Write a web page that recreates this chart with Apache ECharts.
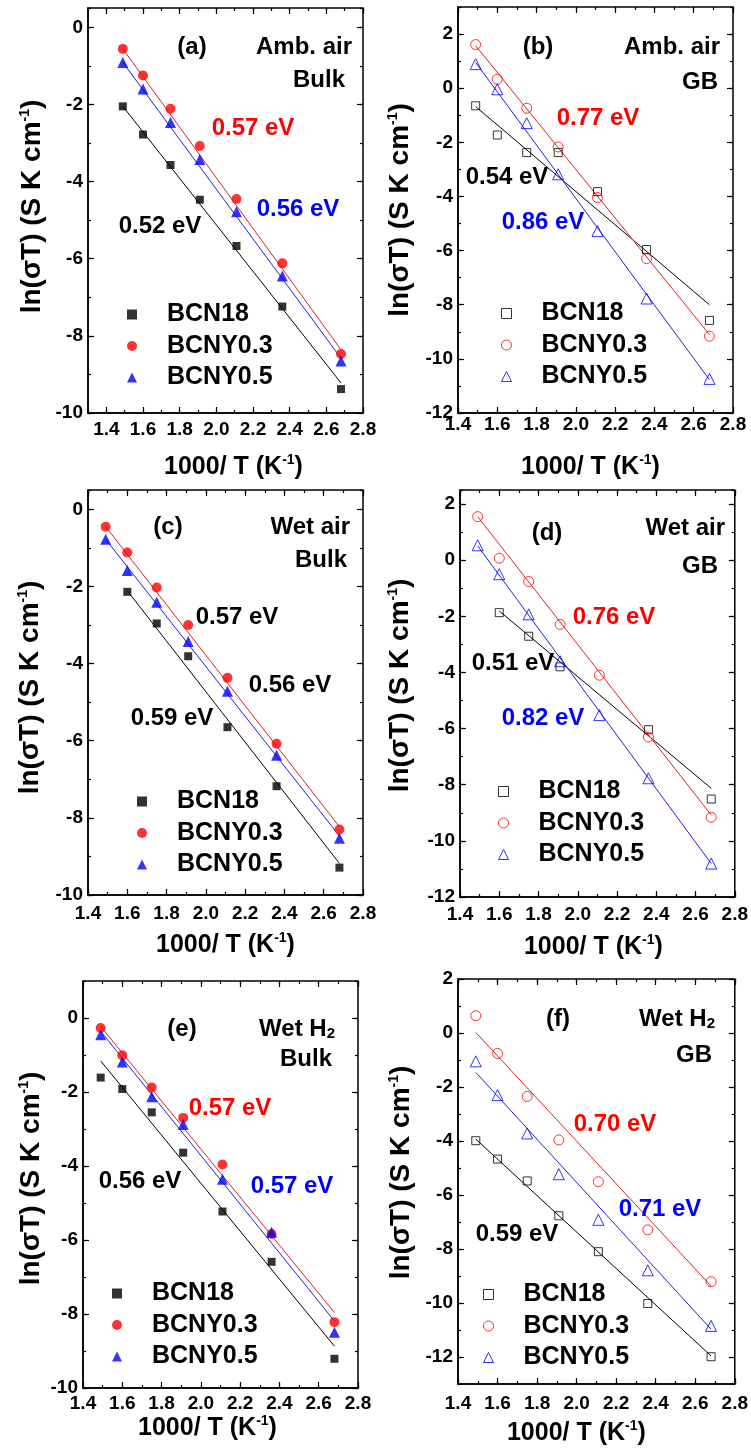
<!DOCTYPE html>
<html><head><meta charset="utf-8">
<script src="https://cdn.jsdelivr.net/npm/echarts@6/dist/echarts.min.js"></script>
<style>html,body{margin:0;padding:0;background:#fff}#c{width:751px;height:1456px}</style>
</head><body><div id="c"></div>
<script>
// ---------- DATA ----------
const xTickLabels = [1.4, 1.6, 1.8, 2.0, 2.2, 2.4, 2.6, 2.8];
const yTicks10 = [-10, -8, -6, -4, -2, 0];
const yTicks12 = [-12, -10, -8, -6, -4, -2, 0, 2];
const invT = [1.49, 1.60, 1.75, 1.91, 2.11, 2.36, 2.68];   // 1000/T (K^-1)
const fitX7 = [1.49, 2.68];
const fitX6 = [1.60, 2.68];

// (a) ambient air, bulk
const a_BCN18   = [-2.05, -2.78, -3.57, -4.47, -5.67, -7.24, -9.38];
const a_BCNY03  = [-0.56, -1.25, -2.11, -3.08, -4.45, -6.12, -8.47];
const a_BCNY05  = [-0.91, -1.60, -2.47, -3.43, -4.78, -6.45, -8.65];
const a_fit_BCN18 = [-2.05, -9.22], a_fit_BCNY03 = [-0.56, -8.36], a_fit_BCNY05 = [-0.91, -8.58];
// (b) ambient air, GB
const b_BCN18   = [-0.65, -1.73, -2.38, -2.38, -3.82, -5.96, -8.58];
const b_BCNY03  = [1.61, 0.33, -0.74, -2.17, -4.04, -6.30, -9.16];
const b_BCNY05  = [0.89, -0.04, -1.29, -3.18, -5.28, -7.77, -10.74];
const b_fit_BCN18 = [-0.68, -8.00], b_fit_BCNY03 = [1.57, -9.10], b_fit_BCNY05 = [0.95, -10.77];
// (c) wet air, bulk
const c_BCN18   = [null, -2.14, -2.96, -3.81, -5.65, -7.18, -9.29];
const c_BCNY03  = [-0.45, -1.12, -2.03, -3.00, -4.37, -6.08, -8.30];
const c_BCNY05  = [-0.78, -1.59, -2.41, -3.43, -4.72, -6.38, -8.53];
const c_fit_BCN18 = [-2.11, -9.18], c_fit_BCNY03 = [-0.45, -8.23], c_fit_BCNY05 = [-0.78, -8.47];
// (d) wet air, GB
const d_BCN18   = [null, -1.87, -2.71, -3.80, null, -6.04, -8.51];
const d_BCNY03  = [1.55, 0.07, -0.76, -2.29, -4.10, -6.30, -9.16];
const d_BCNY05  = [0.53, -0.50, -1.93, -3.60, -5.52, -7.77, -10.81];
const d_fit_BCN18 = [-1.81, -8.13], d_fit_BCNY03 = [1.55, -9.08], d_fit_BCNY05 = [0.51, -10.81];
// (e) wet H2, bulk
const e_BCN18   = [-1.61, -1.92, -2.55, -3.64, -5.23, -6.59, -9.21];
const e_BCNY03  = [-0.27, -1.01, -1.88, -2.70, -3.96, -5.84, -8.22];
const e_BCNY05  = [-0.45, -1.19, -2.13, -2.88, -4.36, -5.79, -8.49];
const e_fit_BCN18 = [-1.16, -8.87], e_fit_BCNY03 = [-0.23, -7.96], e_fit_BCNY05 = [-0.36, -8.19];
// (f) wet H2, GB
const f_BCN18   = [-3.99, -4.67, -5.48, -6.77, -8.10, -10.02, -11.99];
const f_BCNY03  = [0.64, -0.76, -2.35, -3.96, -5.51, -7.29, -9.21];
const f_BCNY05  = [-1.05, -2.30, -3.72, -5.23, -6.92, -8.79, -10.85];
const f_fit_BCN18 = [-3.93, -11.96], f_fit_BCNY03 = [0.02, -9.37], f_fit_BCNY05 = [-1.46, -10.97];

// ---------- STYLE / LAYOUT ----------
const FONT = '"Liberation Sans", Arial, Helvetica, sans-serif';
const RED = '#ff0000', BLUE = '#0000ff', BLACK = '#000000';
const SER = {
  BCN18:  {color: BLACK, symbol: 'rect', size: 8, line: '#000000'},
  BCNY03: {color: RED, symbol: 'circle', size: 10, line: '#e02020'},
  BCNY05: {color: BLUE, symbol: 'triangle', size: 11, line: '#2020e0'}
};
const LABEL = {BCN18: 'BCN18', BCNY03: 'BCNY0.3', BCNY05: 'BCNY0.5'};

// xo: horizontal shift of x-axis title, yo: vertical shift of y-axis title (px, negative = up)
const panels = [
  {id: 'a', g: [88, 8, 275, 405], x: [1.3, 2.8], y: [-10, 0.5], yt: yTicks10, hollow: false,
   d: {BCN18: [a_BCN18, a_fit_BCN18, fitX7], BCNY03: [a_BCNY03, a_fit_BCNY03, fitX7], BCNY05: [a_BCNY05, a_fit_BCNY05, fitX7]},
   xm: 7, xg: 40, yg: 42, xo: 8, yo: -4, leg: [132, 313],
   ann: [['(a)', 192, 47, BLACK, 'center'], ['Amb. air', 352, 47, BLACK, 'right'], ['Bulk', 345, 80, BLACK, 'right'],
         ['0.57 eV', 253, 128, RED, 'center'], ['0.56 eV', 298, 209, BLUE, 'center'], ['0.52 eV', 160, 226, BLACK, 'center']]},
  {id: 'b', g: [458, 7, 275, 406], x: [1.4, 2.8], y: [-12, 3], yt: yTicks12, hollow: true,
   d: {BCN18: [b_BCN18, b_fit_BCN18, fitX7], BCNY03: [b_BCNY03, b_fit_BCNY03, fitX7], BCNY05: [b_BCNY05, b_fit_BCNY05, fitX7]},
   xm: 2, xg: 40, yg: 44, xo: -5, yo: 0, leg: [506, 312],
   ann: [['(b)', 538, 47, BLACK, 'center'], ['Amb. air', 720, 47, BLACK, 'right'], ['GB', 718, 82, BLACK, 'right'],
         ['0.77 eV', 598, 118, RED, 'center'], ['0.54 eV', 507, 177, BLACK, 'center'], ['0.86 eV', 543, 222, BLUE, 'center']]},
  {id: 'c', g: [88, 490, 275, 405], x: [1.4, 2.8], y: [-10, 0.5], yt: yTicks10, hollow: false,
   d: {BCN18: [c_BCN18, c_fit_BCN18, fitX6], BCNY03: [c_BCNY03, c_fit_BCNY03, fitX7], BCNY05: [c_BCNY05, c_fit_BCNY05, fitX7]},
   xm: 9, xg: 36, yg: 44, xo: 0, yo: -5, leg: [142, 800],
   ann: [['(c)', 168, 527, BLACK, 'center'], ['Wet air', 350, 527, BLACK, 'right'], ['Bulk', 347, 560, BLACK, 'right'],
         ['0.57 eV', 237, 617, BLACK, 'center'], ['0.56 eV', 290, 685, BLACK, 'center'], ['0.59 eV', 172, 718, BLACK, 'center']]},
  {id: 'd', g: [460, 490, 275, 407], x: [1.4, 2.8], y: [-12, 2.5], yt: yTicks12, hollow: true,
   d: {BCN18: [d_BCN18, d_fit_BCN18, fitX6], BCNY03: [d_BCNY03, d_fit_BCNY03, fitX7], BCNY05: [d_BCNY05, d_fit_BCNY05, fitX7]},
   xm: 8, xg: 36, yg: 46, xo: -4, yo: -8, leg: [503, 790],
   ann: [['(d)', 547, 533, BLACK, 'center'], ['Wet air', 725, 528, BLACK, 'right'], ['GB', 718, 566, BLACK, 'right'],
         ['0.76 eV', 614, 617, RED, 'center'], ['0.51 eV', 513, 663, BLACK, 'center'], ['0.82 eV', 543, 718, BLUE, 'center']]},
  {id: 'e', g: [83, 981, 275, 407], x: [1.4, 2.8], y: [-10, 1], yt: yTicks10, hollow: false,
   d: {BCN18: [e_BCN18, e_fit_BCN18, fitX7], BCNY03: [e_BCNY03, e_fit_BCNY03, fitX7], BCNY05: [e_BCNY05, e_fit_BCNY05, fitX7]},
   xm: 6, xg: 24, yg: 38, xo: -13, yo: -6, leg: [117, 1292],
   ann: [['(e)', 182, 1029, BLACK, 'center'], ['Wet H{s|2}', 335, 1029, BLACK, 'right'], ['Bulk', 332, 1059, BLACK, 'right'],
         ['0.57 eV', 230, 1108, RED, 'center'], ['0.57 eV', 292, 1186, BLUE, 'center'], ['0.56 eV', 140, 1181, BLACK, 'center']]},
  {id: 'f', g: [458, 979, 277, 405], x: [1.4, 2.8], y: [-13, 2], yt: yTicks12, hollow: true,
   d: {BCN18: [f_BCN18, f_fit_BCN18, fitX7], BCNY03: [f_BCNY03, f_fit_BCNY03, fitX7], BCNY05: [f_BCNY05, f_fit_BCNY05, fitX7]},
   xm: 10, xg: 35, yg: 43, xo: -20, yo: -9, leg: [488, 1293],
   ann: [['(f)', 558, 1019, BLACK, 'center'], ['Wet H{s|2}', 715, 1019, BLACK, 'right'], ['GB', 712, 1055, BLACK, 'right'],
         ['0.70 eV', 615, 1124, RED, 'center'], ['0.71 eV', 660, 1209, BLUE, 'center'], ['0.59 eV', 517, 1234, BLACK, 'center']]}
];

// ---------- BUILD ----------
const option = {animation: false, backgroundColor: '#fff', grid: [], xAxis: [], yAxis: [], series: [], legend: [], graphic: []};
const lineSt = {color: '#000', width: 1.5};
const tickSt = {color: '#000', width: 1.2};
const noLine = {show: false, onZero: false};
const shiftPad = (d) => d >= 0 ? [0, 0, 0, 2 * d] : [0, -2 * d, 0, 0];
const nameStyle = (size, pad) => ({fontSize: size, fontWeight: 'bold', fontFamily: FONT, color: '#000', lineHeight: 28,
  padding: pad,
  rich: {sup: {fontSize: 14, fontWeight: 'bold', fontFamily: FONT, color: '#000', verticalAlign: 'top', lineHeight: 14}}});

panels.forEach((p, gi) => {
  option.grid.push({left: p.g[0], top: p.g[1], width: p.g[2], height: p.g[3], containLabel: false,
    show: true, borderColor: '#000', borderWidth: 1.5, backgroundColor: 'transparent'});
  const xi = option.xAxis.length, yi = option.yAxis.length;
  const xBase = {gridIndex: gi, type: 'value', min: p.x[0], max: p.x[1], splitLine: {show: false}};
  const yBase = {gridIndex: gi, type: 'value', min: p.y[0], max: p.y[1], splitLine: {show: false}};
  option.xAxis.push(Object.assign({}, xBase, {position: 'bottom',
    axisLine: {show: true, onZero: false, lineStyle: lineSt},
    axisTick: {show: true, inside: true, length: 6, customValues: xTickLabels, lineStyle: tickSt},
    axisLabel: {show: true, customValues: xTickLabels, formatter: v => Number(v).toFixed(1), margin: p.xm,
      color: '#000', fontSize: 19, fontWeight: 'bold', fontFamily: FONT},
    name: '1000/ T (K{sup|-1})', nameLocation: 'middle', nameGap: p.xg, nameTextStyle: nameStyle(25, shiftPad(p.xo))}));
  option.xAxis.push(Object.assign({}, xBase, {position: 'top', axisLine: noLine,
    axisTick: {show: true, inside: true, length: 6, customValues: xTickLabels, lineStyle: tickSt},
    axisLabel: {show: false}}));
  ['bottom', 'top'].forEach(pos => option.xAxis.push(Object.assign({}, xBase, {position: pos, interval: 0.1,
    axisLine: noLine, axisTick: {show: true, inside: true, length: 3, lineStyle: tickSt}, axisLabel: {show: false}})));

  option.yAxis.push(Object.assign({}, yBase, {position: 'left',
    axisLine: {show: true, onZero: false, lineStyle: lineSt},
    axisTick: {show: true, inside: true, length: 6, customValues: p.yt, lineStyle: tickSt},
    axisLabel: {show: true, customValues: p.yt, formatter: v => String(Math.round(v)), margin: 5,
      color: '#000', fontSize: 19, fontWeight: 'bold', fontFamily: FONT},
    name: 'ln(σT) (S K cm{sup|-1})', nameLocation: 'middle', nameGap: p.yg, nameTextStyle: nameStyle(28, shiftPad(-p.yo))}));
  option.yAxis.push(Object.assign({}, yBase, {position: 'right', axisLine: noLine,
    axisTick: {show: true, inside: true, length: 6, customValues: p.yt, lineStyle: tickSt},
    axisLabel: {show: false}}));
  ['left', 'right'].forEach(pos => option.yAxis.push(Object.assign({}, yBase, {position: pos, interval: 1,
    axisLine: noLine, axisTick: {show: true, inside: true, length: 3, lineStyle: tickSt}, axisLabel: {show: false}})));

  const legNames = [];
  ['BCN18', 'BCNY03', 'BCNY05'].forEach(k => {
    const s = SER[k], [vals, fit, fx] = p.d[k];
    option.series.push({type: 'line', xAxisIndex: xi, yAxisIndex: yi, silent: true, symbol: 'none',
      name: 'fit ' + k + ' ' + p.id, data: fx.map((x, i) => [x, fit[i]]),
      lineStyle: {color: s.line, width: 1}, z: 2});
    const nm = LABEL[k] + ' (' + p.id + ')';
    legNames.push(nm);
    option.series.push({type: 'scatter', xAxisIndex: xi, yAxisIndex: yi, name: nm, symbol: s.symbol,
      symbolSize: s.size, z: 3,
      data: invT.map((x, i) => [x, vals[i]]).filter(d => d[1] !== null),
      itemStyle: p.hollow ? {color: 'rgba(255,255,255,0)', borderColor: s.color, borderWidth: 1}
                          : {color: s.color, borderColor: s.color, borderWidth: 0}});
  });
  option.legend.push({orient: 'vertical', left: p.leg[0] - 5, top: p.leg[1] - 11, padding: 0,
    itemWidth: 10, itemHeight: 10, itemGap: 6.5, selectedMode: false, data: legNames,
    formatter: n => n.replace(/ \(.\)$/, ''),
    itemStyle: {borderWidth: p.hollow ? 1 : 0},
    textStyle: {fontSize: 25, fontWeight: 'bold', fontFamily: FONT, color: '#000', padding: [0, 0, 0, 25]}});

  p.ann.forEach(([t, x, y, col, al]) => option.graphic.push({type: 'text', x: x, y: y, z: 10, silent: true,
    style: {text: t, fill: col, align: al, verticalAlign: 'middle', fontSize: 24, fontWeight: 'bold', fontFamily: FONT,
      rich: {s: {fontSize: 15, fontWeight: 'bold', fontFamily: FONT, fill: col, verticalAlign: 'bottom', lineHeight: 15}}}}));
});

const chart = echarts.init(document.getElementById('c'), null, {renderer: 'canvas', width: 751, height: 1456});
chart.setOption(option);
</script></body></html>
